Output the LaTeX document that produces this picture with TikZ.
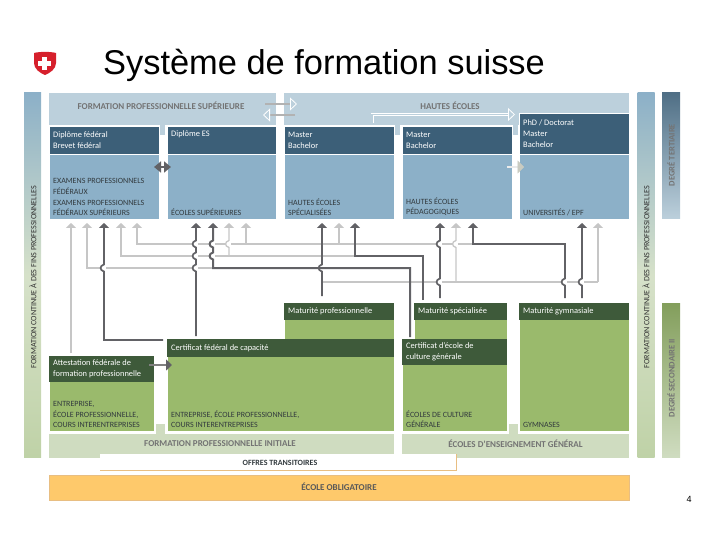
\documentclass[tikz,border=0pt]{standalone}
\usepackage{fontspec}
\setmainfont{Carlito}
\newfontfamily\titlefont{Liberation Sans}
\definecolor{chred}{RGB}{214,32,44}
\definecolor{chband}{RGB}{188,208,220}
\definecolor{chbody}{RGB}{140,176,200}
\definecolor{chhead}{RGB}{60,95,120}
\definecolor{chgreen}{RGB}{154,186,108}
\definecolor{chdeep}{RGB}{62,90,58}
\definecolor{chpale}{RGB}{207,220,192}
\definecolor{chorange}{RGB}{254,201,107}
\definecolor{chtan}{RGB}{232,190,130}
\definecolor{chlight}{RGB}{198,198,198}
\definecolor{chdark}{RGB}{98,98,102}
\definecolor{chtext}{RGB}{50,58,62}
\usetikzlibrary{arrows.meta,positioning,calc}
\newcommand{\hopat}[2]{-- ($(#1|-#2)+(0,3.5)$) .. controls +(-4.5,-1) and +(-4.5,1) .. ($(#1|-#2)+(0,-3.5)$)}
\begin{document}
\begin{tikzpicture}[
    x=1pt, y=-1pt,
    cell/.style={rectangle, anchor=north west, inner sep=0pt, outer sep=0pt},
    bluebody/.style={cell, fill=chbody, draw=white, line width=.6pt},
    bluehead/.style={cell, fill=chhead, draw=white, line width=.6pt},
    greenbody/.style={cell, fill=chgreen, draw=white, line width=.6pt},
    greenhead/.style={cell, fill=chdeep},
    headtext/.style={inner sep=0pt, align=left, text=white, font=\fontsize{8.4}{10.8}\selectfont},
    bodytext/.style={inner sep=0pt, align=left, text=chtext, font=\fontsize{8}{10.6}\selectfont},
    bandtext/.style={inner sep=0pt, text=black!55, font=\fontsize{9}{10}\selectfont\bfseries},
    sidetext/.style={inner sep=0pt, rotate=90, font=\fontsize{8.1}{9}\selectfont},
    greyplain/.style={chlight, line width=1.3pt},
    greyline/.style={greyplain, -{Triangle[width=10pt,length=5pt]}, shorten >=4pt},
    darkline/.style={chdark, line width=1.7pt, -{Triangle[width=10pt,length=5pt]}, shorten >=4pt},
    bigline/.style={darkline, line width=2.3pt}
  ]
    \useasboundingbox (0,0) rectangle (720,540);

    % Title and shield
    \fill[chred] (34,53) .. controls (40,51.5) and (50,51.5) .. (56,53) -- (56,63)
      .. controls (56,69) and (50,73) .. (45,75) .. controls (40,73) and (34,69) .. (34,63) -- cycle;
    \fill[white] (38.2,61.2) rectangle (51.2,65.8);
    \fill[white] (42.4,57) rectangle (47,70);
    \node[anchor=base west, inner sep=0pt, font=\titlefont\fontsize{34.4}{34}\selectfont] (title) at (103,75)
      {Système de formation suisse};
    \node[inner sep=0pt, font=\titlefont\fontsize{9}{9}\selectfont] (pagenum) at (689,499) {4};

    % Side strips
    \node[cell, minimum width=17pt, minimum height=364pt, top color=chbody, bottom color=chpale!70!chgreen,
          middle color=chpale!85!white] (stripl) at (24,93) {};
    \node[cell, minimum width=17pt, minimum height=364pt, top color=chbody, bottom color=chpale!70!chgreen,
          middle color=chpale!85!white] (stripr) at (637.5,93) {};
    \node[cell, minimum width=18pt, minimum height=126pt, top color=chhead!90!white, bottom color=chband] (tert) at (662,93) {};
    \node[cell, minimum width=18pt, minimum height=154pt, top color=chgreen!85!black, bottom color=chpale] (seco) at (662,303) {};
    \node[sidetext, text=black!80] (striplt) at (33,277) {FORMATION CONTINUE À DES FINS PROFESSIONNELLES};
    \node[sidetext, text=black!80] (striprt) at (646,277) {FORMATION CONTINUE À DES FINS PROFESSIONNELLES};
    \node[sidetext, text=black!55, font=\fontsize{8.6}{9}\selectfont\bfseries] (tertt) at (671,155) {DEGRÉ TERTIAIRE};
    \node[sidetext, text=black!55, font=\fontsize{8.6}{9}\selectfont\bfseries] (secot) at (671,378) {DEGRÉ SECONDAIRE II};

    % Bands
    \node[cell, fill=chband, minimum width=227pt, minimum height=32pt] (bandsup) at (49,93) {};
    \node[cell, fill=chband, minimum width=345pt, minimum height=32pt] (bandhe) at (284,93) {};
    \node[bandtext] (bandsupt) at (161,106) {FORMATION PROFESSIONNELLE SUPÉRIEURE};
    \node[bandtext] (bandhet) at (450,106) {HAUTES ÉCOLES};
    \fill[chband] (160,125) rectangle (165,135);
    \fill[chband] (395,125) rectangle (400,135);
    \fill[chband] (513,125) rectangle (518,135);
    \node[cell, fill=chpale, minimum width=345pt, minimum height=24pt] (bandini) at (49,433.5) {};
    \node[cell, fill=chpale, minimum width=227pt, minimum height=24pt] (bandgen) at (402,433.5) {};
    \fill[chpale] (156,424) rectangle (165,434);
    \fill[chpale] (509,424) rectangle (518,434);
    \node[bandtext] (bandinit) at (220,444) {FORMATION PROFESSIONNELLE INITIALE};
    \node[bandtext] (bandgent) at (515.5,444) {ÉCOLES D’ENSEIGNEMENT GÉNÉRAL};

    % Tertiary boxes
    \node[bluebody, minimum width=110pt, minimum height=93pt] (fedb) at (49,126) {};
    \node[bluehead, minimum width=110pt, minimum height=28pt] (fedh) at (49,126) {};
    \node[bluebody, minimum width=109pt, minimum height=93pt] (esb) at (167,126) {};
    \node[bluehead, minimum width=109pt, minimum height=28pt] (esh) at (167,126) {};
    \node[bluebody, minimum width=110pt, minimum height=93pt] (hesb) at (284,126) {};
    \node[bluehead, minimum width=110pt, minimum height=28pt] (hesh) at (284,126) {};
    \node[bluebody, minimum width=110pt, minimum height=93pt] (hepb) at (402,126) {};
    \node[bluehead, minimum width=110pt, minimum height=28pt] (heph) at (402,126) {};
    \node[bluebody, minimum width=110pt, minimum height=106pt] (unib) at (519,113) {};
    \node[bluehead, minimum width=110pt, minimum height=41pt] (unih) at (519,113) {};

    \node[headtext, right=4pt of fedh.west] (fedt) {Diplôme fédéral\\Brevet fédéral};
    \node[headtext, anchor=north west] (est) at (171,130) {Diplôme ES};
    \node[headtext, right=4pt of hesh.west] (hest) {Master\\Bachelor};
    \node[headtext, right=4pt of heph.west] (hept) {Master\\Bachelor};
    \node[headtext, right=4pt of unih.west] (unit) {PhD / Doctorat\\Master\\Bachelor};

    \node[bodytext, above right=3pt and 4pt of fedb.south west] (fedl)
      {EXAMENS PROFESSIONNELS\\FÉDÉRAUX\\EXAMENS PROFESSIONNELS\\FÉDÉRAUX SUPÉRIEURS};
    \node[bodytext, above right=3pt and 4pt of esb.south west] (esl) {ÉCOLES SUPÉRIEURES};
    \node[bodytext, above right=3pt and 4pt of hesb.south west] (hesl) {HAUTES ÉCOLES\\SPÉCIALISÉES};
    \node[bodytext, above right=3pt and 4pt of hepb.south west] (hepl) {HAUTES ÉCOLES\\PÉDAGOGIQUES};
    \node[bodytext, above right=3pt and 4pt of unib.south west] (unil) {UNIVERSITÉS / EPF};

    % Secondary boxes
    \node[greenbody, minimum width=110pt, minimum height=36pt] (mpb) at (284,303) {};
    \node[greenhead, minimum width=110pt, minimum height=17pt] (mph) at (284,303) {};
    \node[greenbody, minimum width=93pt, minimum height=36pt] (msb) at (414,303) {};
    \node[greenhead, minimum width=93pt, minimum height=17pt] (msh) at (414,303) {};
    \node[greenbody, minimum width=110pt, minimum height=128pt] (gyb) at (519,303) {};
    \node[greenhead, minimum width=110pt, minimum height=17pt] (gyh) at (519,303) {};
    \node[greenbody, minimum width=105pt, minimum height=75pt] (attb) at (49,356) {};
    \node[greenhead, minimum width=105pt, minimum height=26pt] (atth) at (49,356) {};
    \node[greenbody, minimum width=227pt, minimum height=92pt] (cfcb) at (167,339) {};
    \node[greenhead, minimum width=227pt, minimum height=18pt] (cfch) at (167,339) {};
    \node[greenbody, minimum width=105pt, minimum height=92pt] (ecgb) at (402,339) {};
    \node[greenhead, minimum width=105pt, minimum height=26pt] (ecgh) at (402,339) {};

    \node[headtext, right=4pt of mph.west] (mpt) {Maturité professionnelle};
    \node[headtext, right=4pt of msh.west] (mst) {Maturité spécialisée};
    \node[headtext, right=4pt of gyh.west] (gyt) {Maturité gymnasiale};
    \node[headtext, right=4pt of atth.west] (attt) {Attestation fédérale de\\formation professionnelle};
    \node[headtext, right=4pt of cfch.west] (cfct) {Certificat fédéral de capacité};
    \node[headtext, right=4pt of ecgh.west] (ecgt) {Certificat d’école de\\culture générale};

    \node[bodytext, above right=3pt and 4pt of attb.south west] (attl)
      {ENTREPRISE,\\ÉCOLE PROFESSIONNELLE,\\COURS INTERENTREPRISES};
    \node[bodytext, above right=3pt and 4pt of cfcb.south west] (cfcl)
      {ENTREPRISE, ÉCOLE PROFESSIONNELLE,\\COURS INTERENTREPRISES};
    \node[bodytext, above right=3pt and 4pt of ecgb.south west] (ecgl) {ÉCOLES DE CULTURE\\GÉNÉRALE};
    \node[bodytext, above right=3pt and 4pt of gyb.south west] (gyl) {GYMNASES};

    % Bottom bars
    \node[cell, fill=white, minimum width=356pt, minimum height=16pt] (offres) at (100,454) {};
    \draw[chtan, line width=.7pt] (offres.south west) -- (offres.south east) -- (offres.north east);
    \node[bodytext, font=\fontsize{8}{9}\selectfont\bfseries] (offrest) at (280,462.5) {OFFRES TRANSITOIRES};
    \node[cell, fill=chorange, draw=chtan, line width=.6pt, minimum width=580pt, minimum height=25pt] (oblig) at (49,475) {};
    \node[bodytext, text=black!65, font=\fontsize{9}{10}\selectfont\bfseries] (obligt) at (339,487) {ÉCOLE OBLIGATOIRE};

    % Columns and levels of the connectors
    \foreach \n/\cx in {cola/71,colb/87,colc/104,cold/121,cole/137,colf/196,colg/213,colh/229,coli/246,
                        colj/322,colk/339,coll/355,colm/410,coln/423,colo/440,colp/456,colq/473,
                        colr/565,cols/582,colt/598,colu/268}
      \coordinate (\n) at (\cx,0);
    \foreach \n/\cy in {rowa/244,rowb/256,rowc/268,rowd/282,rowe/340,rowf/167}
      \coordinate (\n) at (0,\cy);

    % Grey connectors
    \draw[greyline, shorten <=3pt] (atth.north -| cola) -- (fedb.south -| cola);
    \draw[greyline] (colg |- rowc) -| (fedb.south -| colb);
    \draw[greyplain] (coll |- rowb) -- (colu |- rowb);
    \draw[greyline, line width=2.2pt] (colu |- rowb) -| (fedb.south -| cold);
    \draw[greyline] (colq |- rowa) -| (fedb.south -| cole);
    \draw[greyline] (coli |- rowa) -- (esb.south -| coli);
    \draw[greyline] (colk |- rowa) -- (hesb.south -| colk);
    \draw[greyplain] (colj |- rowd) -- (colt |- rowd);
    \draw[greyline] (colt |- rowd) -- (unib.south -| colt);

    % Gaps where a connector passes over another
    \foreach \cx/\cy in {colc/rowc,colf/rowa,colf/rowb,colf/rowc,colg/rowa,colg/rowb,colh/rowa,
                         colj/rowc,colo/rowa,colo/rowd,colp/rowa,colr/rowd,cols/rowd}
      \fill[white] ($(\cx|-\cy)+(-4,-2.5)$) rectangle ($(\cx|-\cy)+(1.5,2.5)$);

    \draw[greyline] (colh |- rowb) \hopat{colh}{rowa} -- (esb.south -| colh);
    \draw[greyline] (colp |- rowd) \hopat{colp}{rowa} -- (hepb.south -| colp);

    % Dark connectors
    \draw[darkline] ($(cfch.north west)+(-4,1)$) -- (colc |- rowe) \hopat{colc}{rowc} -- (fedb.south -| colc);
    \draw[darkline, shorten <=3pt] (cfch.north -| colf) \hopat{colf}{rowc} \hopat{colf}{rowb} \hopat{colf}{rowa} -- (esb.south -| colf);
    \draw[darkline, line width=2pt, shorten <=2pt] (ecgh.north -| colm) -- (colm |- rowc) -- (colg |- rowc)
      \hopat{colg}{rowb} \hopat{colg}{rowa} -- (esb.south -| colg);
    \draw[darkline, shorten <=7pt] (mph.north -| colj) \hopat{colj}{rowc} -- (hesb.south -| colj);
    \draw[bigline, shorten <=3pt] (msh.north -| coln) -- (coln |- rowb) -- (coll |- rowb) -- (hesb.south -| coll);
    \draw[darkline, shorten <=5pt] (msh.north -| colo) \hopat{colo}{rowd} \hopat{colo}{rowa} -- (hepb.south -| colo);
    \draw[darkline, shorten <=5pt] (gyh.north -| colr) \hopat{colr}{rowd} -- (colr |- rowa) -- (colq |- rowa) -- (hepb.south -| colq);
    \draw[darkline, shorten <=5pt] (gyh.north -| cols) \hopat{cols}{rowd} -- (unib.south -| cols);

    % Passage arrows
    \coordinate (supr) at (265,104); \coordinate (her) at (297,104);
    \coordinate (hel) at (295,115); \coordinate (supl) at (263,115);
    \coordinate (hefoot) at (372,123); \coordinate (hetop) at (372,114.5); \coordinate (unitop) at (515,114.5);
    \draw[black!30, line width=2.4pt, -{Triangle[open, width=13pt, length=7pt, color=white, line width=.8pt]}] (supr) -- (her);
    \draw[black!30, line width=2.4pt, -{Triangle[open, width=13pt, length=7pt, color=white, line width=.8pt]}] (hel) -- (supl);
    \draw[white, line width=.7pt, double=chband, double distance=1.6pt,
          -{Triangle[open, width=13pt, length=7pt, color=white, line width=.8pt]}] (hefoot) -- (hetop) -- (unitop);
    \draw[black!8, line width=2.2pt, -{Triangle[width=13pt, length=6.5pt, color=chband!70!chtan, line width=.5pt]}]
      ($(hepb.east |- rowf)+(-5,0)$) -- ($(unib.west |- rowf)+(5,0)$);
    \draw[chdark, line width=1.8pt, {Triangle[width=11pt, length=7pt]}-{Triangle[width=11pt, length=7pt]}]
      ($(fedb.east |- rowf)+(-5,0)$) -- ($(esb.west |- rowf)+(4,0)$);
    \draw[black!50, line width=1.8pt, -{Triangle[width=11pt, length=6pt, color=chdark]}]
      ($(atth.east)+(-5,-4)$) -- ($(atth.east)+(18,-4)$);
  \end{tikzpicture}
\end{document}
